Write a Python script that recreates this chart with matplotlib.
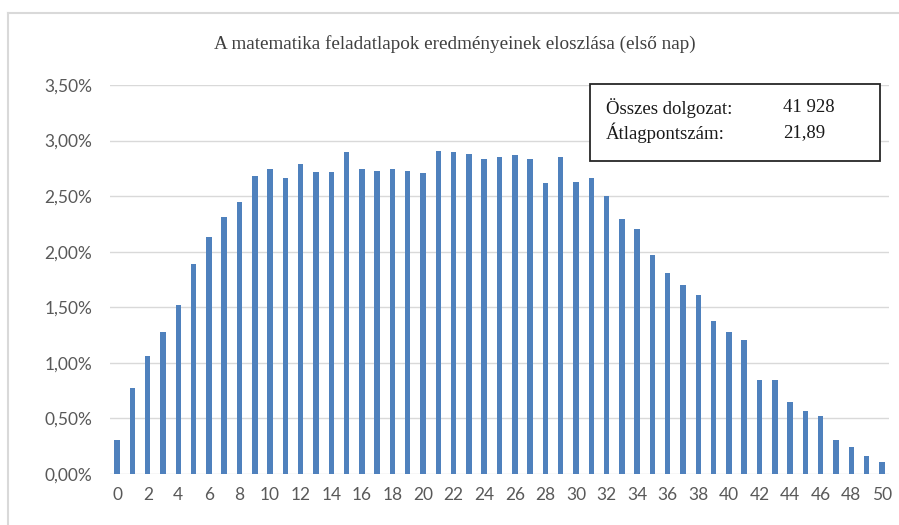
import numpy as np
import matplotlib
matplotlib.use("Agg")
import matplotlib.pyplot as plt
from matplotlib.patches import Rectangle
from matplotlib.lines import Line2D

# Pontszám (0-50) és a dolgozatok aránya százalékban
points = list(range(51))
share = [0.31, 0.77, 1.06, 1.28, 1.52, 1.89, 2.13, 2.31, 2.45, 2.68,
         2.74, 2.66, 2.79, 2.72, 2.72, 2.90, 2.74, 2.73, 2.74, 2.73,
         2.71, 2.91, 2.90, 2.88, 2.83, 2.85, 2.87, 2.83, 2.62, 2.85,
         2.63, 2.66, 2.50, 2.29, 2.20, 1.97, 1.81, 1.70, 1.61, 1.38,
         1.28, 1.21, 0.85, 0.85, 0.65, 0.57, 0.52, 0.31, 0.24, 0.16,
         0.11]
y_ticks = [0.0, 0.5, 1.0, 1.5, 2.0, 2.5, 3.0, 3.5]
x_ticks = list(range(0, 51, 2))

title = "A matematika feladatlapok eredményeinek eloszlása (első nap)"
info_labels = ["Összes dolgozat:", "Átlagpontszám:"]
info_values = ["41 928", "21,89"]

W, H = 899, 525
fig = plt.figure(figsize=(W / 100, H / 100), dpi=100)

# külső keret (Excel diagramterület), csak a felső és bal oldala látszik
fig.lines.append(Line2D([8 / W, 1.0], [1 - 13 / H] * 2, transform=fig.transFigure,
                        color="#d9d9d9", linewidth=1.5))
fig.lines.append(Line2D([8 / W] * 2, [0, 1 - 13 / H], transform=fig.transFigure,
                        color="#d9d9d9", linewidth=1.5))

ax = fig.add_axes([109.5 / W, (H - 474) / H, (889.5 - 109.5) / W, (474 - 85) / H])
ax.bar(points, share, width=0.36, color="#4f81bd", zorder=3)

ax.set_xlim(-0.5, 50.5)
ax.set_ylim(0, 3.5)
ax.set_yticks(y_ticks)
ax.set_yticklabels([f"{v:.2f}%".replace(".", ",") for v in y_ticks])
ax.set_xticks(x_ticks)
ax.set_xticklabels([str(v) for v in x_ticks])
ax.grid(axis="y", color="#d9d9d9", linewidth=1.0, zorder=0)
for s in ax.spines.values():
    s.set_visible(False)
ax.tick_params(length=0, labelsize=12.5, labelcolor="#595959", pad=9)
ax.tick_params(axis="y", pad=12.5)
for lab in ax.get_xticklabels() + ax.get_yticklabels():
    lab.set_fontfamily("Lato")

fig.text(455 / W, 1 - 44 / H, title, ha="center", va="center",
         fontfamily="Liberation Serif", fontsize=13.8, color="#404040")

# szövegdoboz
fig.patches.append(Rectangle((590 / W, 1 - 161 / H), (880 - 590) / W, (161 - 84) / H,
                             transform=fig.transFigure, fill=True, facecolor="white",
                             edgecolor="#262626", linewidth=1.3, zorder=5))
for i, (lab, val) in enumerate(zip(info_labels, info_values)):
    y = 1 - (108 + i * 25) / H
    fig.text(606 / W, y, lab, ha="left", va="center", fontfamily="Liberation Serif",
             fontsize=13.5, color="#1a1a1a", zorder=6)
    fig.text(783 / W, y, val, ha="left", va="center", fontfamily="Liberation Serif",
             fontsize=13.5, color="#1a1a1a", zorder=6)

fig.savefig("out.png", dpi=100, facecolor="white")
